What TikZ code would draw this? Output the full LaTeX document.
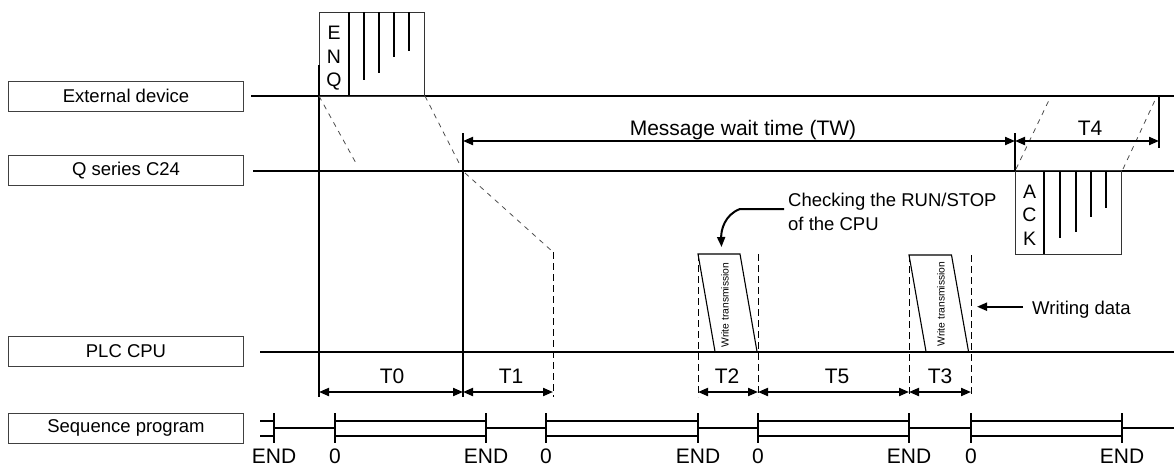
\documentclass[tikz,border=0pt]{standalone}
\usepackage{fontspec}
\setmainfont{Liberation Sans}
\usetikzlibrary{arrows.meta}
\newcommand\fsz[1]{\fontsize{#1}{#1}\selectfont}
\tikzset{
  lbl/.style={draw=black!75, line width=0.8pt, minimum width=235.6pt, minimum height=30pt, inner sep=0pt, font=\fsz{18.5}},
  tl/.style={line width=2pt},
  thinbox/.style={draw=black!80, line width=0.9pt},
  vdash/.style={line width=0.9pt, dash pattern=on 7pt off 4pt},
  ddash/.style={line width=0.8pt, draw=black!70, dash pattern=on 5pt off 5pt},
  dim/.style={line width=2pt, {Triangle[length=10pt,width=8pt]}-{Triangle[length=10pt,width=8pt]}},
  onearrow/.style={line width=2pt, -{Triangle[length=10pt,width=8pt]}},
  tlab/.style={anchor=base, inner sep=0pt, font=\fsz{21}},
  txt/.style={anchor=base west, inner sep=0pt, font=\fsz{18.5}},
  letter/.style={anchor=base, inner sep=0pt, font=\fsz{19.5}},
  wt/.style={rotate=90, inner sep=0pt, font=\fsz{10.3}},
}
\begin{document}
\begin{tikzpicture}[x=1pt,y=-1pt]
\useasboundingbox (0,0) rectangle (1174,467);

% ---- label boxes
\node[lbl] (ext) at (126,96) {External device};
\node[lbl] (q24) at (126,170.7) {Q series C24};
\node[lbl] (plc) at (126,351.5) {PLC CPU};
\node[lbl] (seq) at (126,428) {Sequence program};

% ---- time lines
\coordinate (extL) at (251,96);    \coordinate (extR) at (1174,96);
\coordinate (qL) at (253,170.7);   \coordinate (qR) at (1174,170.7);
\coordinate (pL) at (260,351.5);   \coordinate (pR) at (1174,351.5);
\draw[tl] (extL) -- (extR);
\draw[tl] (qL) -- (qR);
\draw[tl] (pL) -- (pR);

% ---- ENQ block
\draw[thinbox] (319,12) rectangle (424,96);
\draw[tl] (349,12) -- (349,96);
\foreach \x/\y in {364/80,379/72.5,394/57,409/50.5} \draw[tl] (\x,12) -- (\x,\y);
\node[letter] (e1) at (334,39.5) {E};
\node[letter] (e2) at (334,63) {N};
\node[letter] (e3) at (334,86.5) {Q};

% ---- ACK block
\draw[thinbox] (1015,170.7) rectangle (1121,254);
\draw[tl] (1044,170.7) -- (1044,254);
\foreach \x/\y in {1060/238,1075.7/231.7,1091/216.7,1106/208} \draw[tl] (\x,170.7) -- (\x,\y);
\node[letter] (a1) at (1029.5,198) {A};
\node[letter] (a2) at (1029.5,221.5) {C};
\node[letter] (a3) at (1029.5,245) {K};

% ---- vertical marks
\coordinate (v0t) at (319,65);   \coordinate (v0b) at (319,397);
\coordinate (v1t) at (463,133);  \coordinate (v1b) at (463,397);
\coordinate (v4t) at (1015,133); \coordinate (v4b) at (1015,170.7);
\coordinate (v5t) at (1159,96);  \coordinate (v5b) at (1159,148);
\draw[tl] (v0t) -- (v0b);
\draw[tl] (v1t) -- (v1b);
\draw[tl] (v4t) -- (v4b);
\draw[tl] (v5t) -- (v5b);

\foreach \x/\t in {553/252,698/254,758/254,909/255,971/255}
  \draw[vdash] (\x,\t) -- (\x,397);

% ---- slanted dashed transfer lines
\draw[ddash] (319,96) -- (357,165);
\draw[ddash] (425,96) -- (460,165);
\draw[ddash] (465,173) -- (553,252);
\draw[ddash] (1016,169) -- (1050,98);
\draw[ddash] (1123,169) -- (1156,98);

% ---- write transmission blocks
\draw[line width=1.1pt] (715,351.5) -- (698,254) -- (740,254) -- (757,351.5);
\draw[line width=1.1pt] (926,351.5) -- (909,255) -- (951.5,255) -- (968.5,351.5);
\node[wt] (w1) at (725,305) {Write transmission};
\node[wt] (w2) at (941,304) {Write transmission};

% ---- upper dimension arrows
\coordinate (mwA) at (463,141); \coordinate (mwB) at (1015,141); \coordinate (mwC) at (1159,141);
\draw[dim] (mwA) -- (mwB);
\draw[dim] (mwB) -- (mwC);
\node[tlab] (mw) at (743,135) {Message wait time (TW)};
\node[tlab] (t4) at (1090,135) {T4};

% ---- lower dimension arrows
\foreach \n/\x in {a/319,b/463,c/553,d/698,e/758,f/909,g/971}
  \coordinate (d\n) at (\x,392);
\draw[dim] (da) -- (db);
\draw[dim] (db) -- (dc);
\draw[dim] (dd) -- (de);
\draw[dim] (de) -- (df);
\draw[dim] (df) -- (dg);
\node[tlab] (t0) at (392,383.3) {T0};
\node[tlab] (t1) at (511,383.3) {T1};
\node[tlab] (t2) at (727,383.3) {T2};
\node[tlab] (t5) at (837,383.3) {T5};
\node[tlab] (t3) at (940,383.3) {T3};

% ---- annotations
\node[txt] (chk1) at (788,206.7) {Checking the RUN/STOP};
\node[txt] (chk2) at (788,230) {of the CPU};
\coordinate (chkA) at (784,209);
\coordinate (chkB) at (740,209);
\coordinate (chkT) at (721.5,247);
\draw[line width=2pt, -{Triangle[length=10pt,width=8pt]}] (chkA) -- (chkB) to[out=200,in=92] (chkT);

\node[txt] (wd) at (1032,314) {Writing data};
\coordinate (wdA) at (1023,306.7);
\coordinate (wdT) at (977,306.7);
\draw[onearrow] (wdA) -- (wdT);

% ---- sequence program scan line
\draw[tl] (260,420.7) -- (274,420.7);
\draw[tl] (260,435.7) -- (274,435.7);
\foreach \a/\b in {335/486,546/698,758/909,971/1122} {
  \draw[tl] (\a,420.7) -- (\b,420.7);
  \draw[tl] (\a,435.7) -- (\b,435.7);
}
\foreach \a/\b in {274/335,486/546,698/758,909/971,1122/1174}
  \draw[tl] (\a,428) -- (\b,428);
\foreach \x in {274,335,486,546,698,758,909,971,1122}
  \draw[tl] (\x,413) -- (\x,443);
\foreach \x in {274,486,698,909,1122}
  \node[tlab] at (\x,463) {END};
\foreach \x in {335,546,758,971}
  \node[tlab] at (\x,463) {0};
\end{tikzpicture}
\end{document}
